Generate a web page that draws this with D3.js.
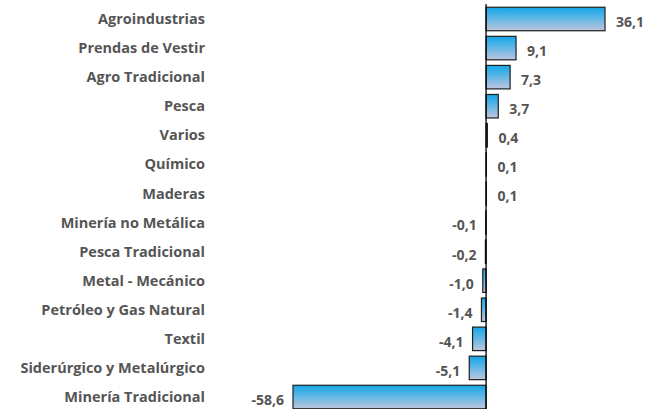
<!DOCTYPE html>
<html>
<head>
<meta charset="utf-8">
<script src="https://d3js.org/d3.v7.min.js"></script>
<style>
body { margin: 0; background: #fff; }
text { font-family: "Open Sans", Lato, sans-serif; font-weight: 700; fill: #555; }
</style>
</head>
<body>
<div id="chart"></div>
<script>
var categories = ["Agroindustrias", "Prendas de Vestir", "Agro Tradicional", "Pesca", "Varios",
                  "Químico", "Maderas", "Minería no Metálica", "Pesca Tradicional", "Metal - Mecánico",
                  "Petróleo y Gas Natural", "Textil", "Siderúrgico y Metalúrgico", "Minería Tradicional"];
var values = [36.1, 9.1, 7.3, 3.7, 0.4, 0.1, 0.1, -0.1, -0.2, -1.0, -1.4, -4.1, -5.1, -58.6];

var w = 654, h = 409,
    barH = 23.5;

var svg = d3.select('#chart').append('svg')
    .attr('width', w).attr('height', h);

var grad = svg.append('defs').append('linearGradient')
    .attr('id', 'barfill').attr('x1', 0).attr('y1', 0).attr('x2', 0).attr('y2', 1);
grad.append('stop').attr('offset', '0%').attr('stop-color', '#12a6e6');
grad.append('stop').attr('offset', '45%').attr('stop-color', '#5cb6e6');
grad.append('stop').attr('offset', '100%').attr('stop-color', '#c0c6de');

var x = d3.scaleLinear().domain([-58.6, 36.1]).range([293, 605]);
var y = d3.scalePoint().domain(categories).range([19, 397]);

var fmt = function(v) { return d3.format('.1f')(v).replace('.', ',').replace('−', '-'); };

var rows = svg.selectAll('g.row')
    .data(categories.map(function(c, i) { return { name: c, value: values[i] }; }))
    .enter().append('g').attr('class', 'row');

rows.append('rect')
    .attr('x', function(d) { return Math.min(x(0), x(d.value)); })
    .attr('y', function(d) { return y(d.name) - barH / 2; })
    .attr('width', function(d) { return Math.abs(x(d.value) - x(0)); })
    .attr('height', barH)
    .attr('fill', 'url(#barfill)')
    .attr('stroke', '#1e1e1e')
    .attr('stroke-width', 1.2);

// category labels
rows.append('text')
    .attr('x', 205)
    .attr('y', function(d) { return y(d.name); })
    .attr('dy', '0.35em')
    .attr('text-anchor', 'end')
    .style('font-size', '14.5px')
    .text(function(d) { return d.name; });

// value labels
rows.append('text')
    .attr('x', function(d) { return d.value >= 0 ? x(d.value) + 11 : x(d.value) - 9; })
    .attr('y', function(d) { return y(d.name) + 3; })
    .attr('dy', '0.35em')
    .attr('text-anchor', function(d) { return d.value >= 0 ? 'start' : 'end'; })
    .style('font-size', '14px')
    .text(function(d) { return fmt(d.value); });

// zero axis
svg.append('line')
    .attr('x1', x(0)).attr('x2', x(0))
    .attr('y1', 4).attr('y2', h)
    .attr('stroke', '#000').attr('stroke-width', 1.3);
</script>
</body>
</html>
